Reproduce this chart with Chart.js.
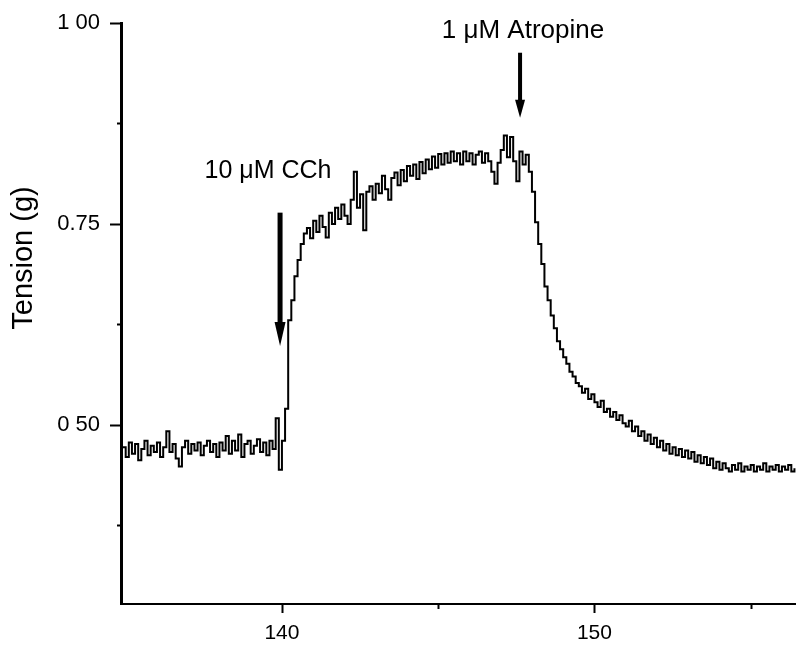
<!DOCTYPE html>
<html>
<head>
<meta charset="utf-8">
<script src="https://cdn.jsdelivr.net/npm/chart.js@4/dist/chart.umd.min.js"></script>
<style>
  html, body { margin: 0; padding: 0; background: #fff; }
  #wrap { width: 796px; height: 646px; }
</style>
</head>
<body>
<div id="wrap"><canvas id="c" width="796" height="646"></canvas></div>
<script>
// ---- Data ----
const times = [
  134.9,
  135.0,135.1,135.2,135.3,135.4,135.5,135.6,135.7,135.8,135.9,
  136.0,136.1,136.2,136.3,136.4,136.5,136.6,136.7,136.8,136.9,
  137.0,137.1,137.2,137.3,137.4,137.5,137.6,137.7,137.8,137.9,
  138.0,138.1,138.2,138.3,138.4,138.5,138.6,138.7,138.8,138.9,
  139.0,139.1,139.2,139.3,139.4,139.5,139.6,139.7,139.8,139.9,
  140.0,140.1,140.2,140.3,140.4,140.5,140.6,140.7,140.8,140.9,
  141.0,141.1,141.2,141.3,141.4,141.5,141.6,141.7,141.8,141.9,
  142.0,142.1,142.2,142.3,142.4,142.5,142.6,142.7,142.8,142.9,
  143.0,143.1,143.2,143.3,143.4,143.5,143.6,143.7,143.8,143.9,
  144.0,144.1,144.2,144.3,144.4,144.5,144.6,144.7,144.8,144.9,
  145.0,145.1,145.2,145.3,145.4,145.5,145.6,145.7,145.8,145.9,
  146.0,146.1,146.2,146.3,146.4,146.5,146.6,146.7,146.8,146.9,
  147.0,147.1,147.2,147.3,147.4,147.5,147.6,147.7,147.8,147.9,
  148.0,148.1,148.2,148.3,148.4,148.5,148.6,148.7,148.8,148.9,
  149.0,149.1,149.2,149.3,149.4,149.5,149.6,149.7,149.8,149.9,
  150.0,150.1,150.2,150.3,150.4,150.5,150.6,150.7,150.8,150.9,
  151.0,151.1,151.2,151.3,151.4,151.5,151.6,151.7,151.8,151.9,
  152.0,152.1,152.2,152.3,152.4,152.5,152.6,152.7,152.8,152.9,
  153.0,153.1,153.2,153.3,153.4,153.5,153.6,153.7,153.8,153.9,
  154.0,154.1,154.2,154.3,154.4,154.5,154.6,154.7,154.8,154.9,
  155.0,155.1,155.2,155.3,155.4,155.5,155.6,155.7,155.8,155.9,
  156.0,156.1,156.2,156.3,156.4
];
const tension = [
  0.472,
  0.460,0.478,0.464,0.476,0.456,0.470,0.480,0.462,0.474,0.466,
  0.478,0.460,0.472,0.492,0.466,0.476,0.458,0.448,0.472,0.480,
  0.464,0.476,0.468,0.478,0.462,0.474,0.480,0.466,0.476,0.460,
  0.478,0.468,0.486,0.464,0.480,0.468,0.488,0.460,0.476,0.480,
  0.464,0.474,0.482,0.466,0.478,0.462,0.480,0.470,0.508,0.444,
  0.480,0.520,0.630,0.655,0.685,0.705,0.725,0.738,0.745,0.732,
  0.754,0.740,0.760,0.746,0.733,0.764,0.750,0.770,0.756,0.774,
  0.760,0.750,0.780,0.815,0.770,0.787,0.742,0.790,0.797,0.780,
  0.800,0.788,0.810,0.793,0.780,0.807,0.814,0.798,0.817,0.803,
  0.822,0.810,0.824,0.806,0.827,0.813,0.830,0.818,0.834,0.820,
  0.837,0.824,0.838,0.826,0.840,0.828,0.838,0.824,0.840,0.828,
  0.838,0.824,0.836,0.840,0.826,0.838,0.828,0.815,0.800,0.826,
  0.842,0.860,0.833,0.858,0.828,0.803,0.840,0.824,0.836,0.815,
  0.790,0.752,0.725,0.700,0.672,0.655,0.636,0.620,0.604,0.594,
  0.584,0.576,0.566,0.560,0.552,0.548,0.540,0.545,0.532,0.538,
  0.528,0.522,0.530,0.516,0.520,0.510,0.516,0.506,0.512,0.502,
  0.498,0.505,0.492,0.498,0.486,0.492,0.480,0.488,0.476,0.484,
  0.472,0.480,0.468,0.476,0.464,0.472,0.462,0.470,0.460,0.468,
  0.458,0.466,0.454,0.462,0.452,0.460,0.450,0.458,0.446,0.454,
  0.444,0.452,0.446,0.442,0.450,0.444,0.452,0.442,0.448,0.444,
  0.450,0.442,0.448,0.444,0.452,0.442,0.448,0.444,0.450,0.442,
  0.448,0.444,0.450,0.442,0.446
];
const yTickValues = [0.50, 0.75, 1.00];
const yTickLabels = ["0 50", "0.75", "1 00"];
const yMinorTicks = [0.375, 0.625, 0.875];
const xTickValues = [140, 150];
const xTickLabels = ["140", "150"];
const xMinorTicks = [145, 155];
const yAxisTitle = "Tension (g)";
// Annotations: [label, x (s), arrow top (g), arrow tip (g)]
const cchLabel = "10 \u03bcM CCh";
const cchArrow = [139.94, 0.764, 0.598];
const atrLabel = "1 \u03bcM Atropine";
const atrArrow = [147.62, 0.963, 0.882];

const FONT = "'Liberation Sans', Arial, Helvetica, sans-serif";

const decorPlugin = {
  id: 'decor',
  afterDraw(chart) {
    const { ctx, chartArea, scales } = chart;
    const x = scales.x, y = scales.y;
    ctx.save();
    ctx.strokeStyle = '#000';
    ctx.fillStyle = '#000';
    ctx.lineWidth = 2;
    yTickValues.forEach(v => {
      const py = Math.round(y.getPixelForValue(v)) + 0.5;
      ctx.beginPath(); ctx.moveTo(chartArea.left - 11, py); ctx.lineTo(chartArea.left, py); ctx.stroke();
    });
    yMinorTicks.forEach(v => {
      const py = Math.round(y.getPixelForValue(v)) + 0.5;
      ctx.beginPath(); ctx.moveTo(chartArea.left - 4, py); ctx.lineTo(chartArea.left, py); ctx.stroke();
    });
    xTickValues.forEach(v => {
      const px = Math.round(x.getPixelForValue(v)) + 0.5;
      ctx.beginPath(); ctx.moveTo(px, chartArea.bottom); ctx.lineTo(px, chartArea.bottom + 9); ctx.stroke();
    });
    xMinorTicks.forEach(v => {
      const px = Math.round(x.getPixelForValue(v)) + 0.5;
      ctx.beginPath(); ctx.moveTo(px, chartArea.bottom); ctx.lineTo(px, chartArea.bottom + 5); ctx.stroke();
    });
    function arrow(a, shaftW, headW, headH) {
      const px = x.getPixelForValue(a[0]);
      const top = y.getPixelForValue(a[1]);
      const tip = y.getPixelForValue(a[2]);
      ctx.fillRect(px - shaftW / 2, top, shaftW, tip - top - headH + 1);
      ctx.beginPath();
      ctx.moveTo(px - headW / 2, tip - headH);
      ctx.lineTo(px + headW / 2, tip - headH);
      ctx.lineTo(px, tip);
      ctx.closePath();
      ctx.fill();
    }
    arrow(cchArrow, 5, 11, 24);
    arrow(atrArrow, 4, 10, 18);
    ctx.textBaseline = 'alphabetic';
    ctx.textAlign = 'center';
    ctx.font = "25px " + FONT;
    ctx.fillText(cchLabel, 268, 178);
    ctx.font = "26px " + FONT;
    ctx.fillText(atrLabel, 523, 38);
    ctx.save();
    ctx.translate(32, 258);
    ctx.rotate(-Math.PI / 2);
    ctx.font = "29px " + FONT;
    ctx.textAlign = 'center';
    ctx.textBaseline = 'alphabetic';
    ctx.fillText(yAxisTitle, 0, 0);
    ctx.restore();
    ctx.restore();
  }
};

new Chart(document.getElementById('c'), {
  type: 'line',
  data: {
    datasets: [{
      data: times.map((t, i) => ({ x: t, y: tension[i] })),
      borderColor: '#000',
      borderWidth: 2,
      pointRadius: 0,
      stepped: true,
      fill: false
    }]
  },
  options: {
    responsive: false,
    animation: false,
    devicePixelRatio: 1,
    layout: { autoPadding: false, padding: { top: 23, left: 0, right: 0, bottom: 0 } },
    plugins: { legend: { display: false }, tooltip: { enabled: false } },
    scales: {
      x: {
        type: 'linear',
        min: 134.85,
        max: 156.45,
        afterFit(s) { s.height = 42; s.paddingLeft = 0; s.paddingRight = 0; },
        afterBuildTicks(s) { s.ticks = xTickValues.map(v => ({ value: v })); },
        grid: { display: true, drawOnChartArea: false, drawTicks: false },
        border: { display: true, color: '#000', width: 2 },
        ticks: {
          color: '#000',
          font: { family: FONT, size: 21 },
          padding: 17,
          maxRotation: 0,
          callback: (v) => xTickLabels[xTickValues.indexOf(v)]
        }
      },
      y: {
        type: 'linear',
        min: 0.277,
        max: 1.0,
        afterFit(s) { s.width = 121; s.paddingTop = 0; s.paddingBottom = 0; },
        afterBuildTicks(s) { s.ticks = yTickValues.map(v => ({ value: v })); },
        grid: { display: true, drawOnChartArea: false, drawTicks: false },
        border: { display: true, color: '#000', width: 3 },
        ticks: {
          color: '#000',
          font: { family: FONT, size: 22 },
          padding: 21,
          callback: (v) => yTickLabels[yTickValues.indexOf(v)]
        },
        title: { display: false, text: yAxisTitle }
      }
    }
  },
  plugins: [decorPlugin]
});
</script>
</body>
</html>
